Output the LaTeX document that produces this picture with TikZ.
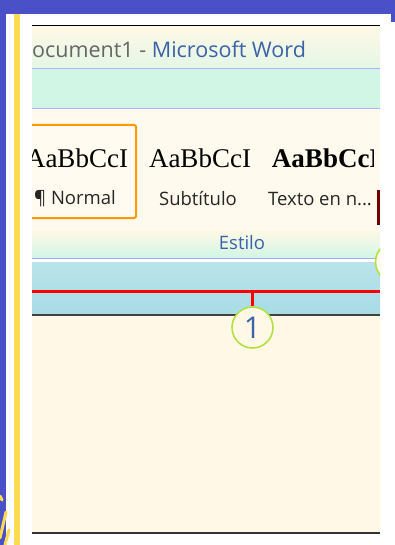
\documentclass[tikz,border=0pt]{standalone}
\usepackage{fontspec}
\setmainfont{Liberation Serif}
\setsansfont{Open Sans}
\usetikzlibrary{positioning}
\definecolor{slideblue}{HTML}{4A50C8}
\definecolor{slideyellow}{HTML}{FFDB52}
\definecolor{paper}{HTML}{FFF8E6}
\definecolor{mint}{HTML}{D2F6E6}
\definecolor{ribbonblue}{HTML}{A8DCE6}
\definecolor{wordblue}{HTML}{3A62A8}
\definecolor{callgreen}{HTML}{B4E040}
\tikzset{
	sample/.style={font=\fontsize{27}{27}\selectfont,inner sep=0pt},
	stylename/.style={font=\sffamily\fontsize{18.5}{18.5}\selectfont,text=black!85,inner sep=0pt},
	selbox/.style={draw=orange!80!yellow,line width=2pt,rounded corners=2pt,fill=paper!60!white},
	callout/.style={circle,draw=callgreen,line width=1.6pt,fill=paper,minimum size=41pt,inner sep=0pt,font=\sffamily\fontsize{30}{30}\selectfont,text=wordblue},
	marker/.style={draw=red,line width=3pt}
}
\begin{document}
\begin{tikzpicture}[x=1pt,y=-1pt]
	\useasboundingbox (0,0) rectangle (395,545);
	% slide frame
	\fill[slideblue] (0,0) rectangle (395,545);
	\fill[white] (6,14) rectangle (395,545);
	\fill[slideblue] (391,14) rectangle (395,22);
	\fill[slideyellow] (14,14) rectangle (20,545);
	\draw[slideyellow,line width=3pt,line cap=round] (0,496) -- (2,500);
	\draw[slideyellow,line width=3pt,line cap=round] (6,512) -- (0,538);
	\draw[slideyellow,line width=3pt,line cap=round] (9,530) -- (5,545);

	\begin{scope}
		\clip (32,26) rectangle (380,533);
		% window bands
		\shade[top color=paper,bottom color=mint!60!paper] (32,26) rectangle (380,68);
		\fill[mint] (32,69) rectangle (380,108);
		\draw[blue!30,line width=1pt] (32,68.5) -- (380,68.5);
		\draw[blue!30,line width=1pt] (32,108.5) -- (380,108.5);
		\fill[paper!70!white] (32,110) rectangle (380,230);
		\shade[top color=paper,bottom color=mint] (32,230) rectangle (380,258);
		\draw[blue!35,line width=1pt] (32,258) -- (380,258);
		\shade[top color=ribbonblue!80,bottom color=ribbonblue] (32,262) rectangle (380,314);
		\fill[paper] (32,315) rectangle (380,533);
		\draw[black!75,line width=2pt] (32,314.5) -- (380,314.5);

		\node[anchor=west,inner sep=0pt,font=\sffamily\fontsize{21.5}{21.5}\selectfont] (title) at (32,49)
			{\textcolor{black!60}{ocument1 -} \textcolor{wordblue}{Microsoft Word}};

		% style gallery
		\node[selbox,minimum width=108pt,minimum height=93pt] (normalbox) at (82,171.5) {};
		\node[sample] (sampleA) at (77,158) {AaBbCcI};
		\node[sample] (sampleB) at (200,158) {AaBbCcI};
		\begin{scope}
			\clip (260,130) rectangle (373,180);
			\node[sample,font=\bfseries\fontsize{27}{27}\selectfont] (sampleC) at (326,158) {AaBbCcI};
		\end{scope}
		\node[stylename] (nameA) at (75,199) {\P\ Normal};
		\node[stylename] (nameB) at (198,199) {Subtítulo};
		\node[stylename] (nameC) at (320,199) {Texto en n...};
		\fill[red!45!black] (377,190) rectangle (380,225);
		\node[stylename,text=wordblue] (group) at (242,243) {Estilo};

		% callouts
		\node[callout] (call1) at (252.5,327.5) {1};
		\node[callout] (call2) at (396,262) {};
		\coordinate (tick) at (252.5,291);
		\draw[marker] (32,291) -- (380,291);
		\draw[marker] (tick) -- (call1.north);
	\end{scope}
	\draw[black,line width=1.5pt] (32,25.5) -- (380,25.5);
	\draw[black!80,line width=2pt] (32,533) -- (380,533);
\end{tikzpicture}
\end{document}
